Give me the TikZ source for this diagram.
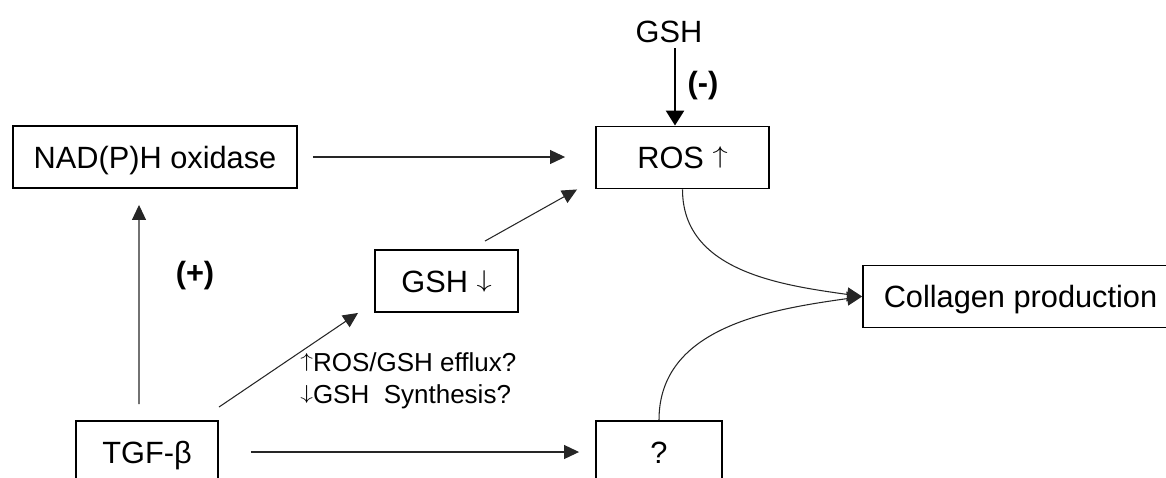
\documentclass[tikz,border=0pt]{standalone}
\usepackage{fontspec}
\setmainfont{Liberation Sans}
\usetikzlibrary{arrows.meta}

% slim up/down arrows, as tall as a capital letter
\newcommand\upmark{\raisebox{0.155em}{\scalebox{1}[0.8]{$\uparrow$}}}
\newcommand\downmark{\raisebox{0.155em}{\scalebox{1}[0.8]{$\downarrow$}}}

\begin{document}
\begin{tikzpicture}[x=0.02cm,y=-0.02cm,
  mainfont/.style={font=\fontsize{17.5}{21}\selectfont},
  box/.style={draw=black, line width=1.1pt, minimum height=1.24cm,
    inner sep=0pt, text height=0.444cm, text depth=0cm, mainfont},
  lbl/.style={inner sep=0pt, text height=0.444cm, text depth=0cm, mainfont},
  conn/.style={draw=black!85, line width=0.6pt,
    -{Triangle[length=0.3cm,width=0.28cm]}},
  heavy/.style={draw=black, line width=1.5pt,
    -{Triangle[length=0.3cm,width=0.36cm]}},
  note/.style={align=left, inner sep=0pt,
    font=\fontsize{14.8}{18.2}\selectfont}]
\useasboundingbox (0,0) rectangle (1166,477);

% boxes
\node[box, minimum width=5.68cm] (nad)  at (155,157)    {NAD(P)H oxidase};
\node[box, minimum width=3.46cm] (ros)  at (682.5,157.5) {ROS \upmark};
\node[box, minimum width=2.86cm] (gshd) at (446.5,281)  {GSH \downmark};
\node[box, minimum width=6.3cm]  (coll) at (1020.5,296.5) {Collagen production};
\node[box, minimum width=2.84cm] (tgf)  at (147,452)    {TGF-β};
\node[box, minimum width=2.52cm] (q)    at (659,452)    {?};

% free labels
\node[lbl] (gsht) at (669,31) {GSH};
\node[lbl, font=\fontsize{17.5}{21}\selectfont\bfseries] (minus) at (703,82) {(-)};
\node[lbl, font=\fontsize{17.5}{21}\selectfont\bfseries] (plus)  at (195,272) {(+)};
\node[note, anchor=west] (mech) at (300,381)
  {\upmark ROS/GSH efflux?\\\downmark GSH~ Synthesis?};

% connectors
\draw[conn, shorten <=0.3cm, shorten >=0.6cm] (nad.east) -- (nad.east -| ros.west);
\draw[heavy, shorten <=0.12cm] ([xshift=0.12cm]gsht.south) -- ([xshift=0.12cm]gsht.south |- ros.north);
\draw[conn] ([xshift=0.77cm,yshift=0.16cm]gshd.north) -- ([xshift=-0.36cm]ros.south west);
\draw[conn] ([yshift=0.26cm]tgf.north east) -- ([xshift=-0.32cm]gshd.south west);
\draw[conn] ([xshift=-0.16cm,yshift=0.32cm]tgf.north) -- ([xshift=-0.32cm,yshift=-0.32cm]nad.south);
\draw[conn, shorten <=0.64cm, shorten >=0.32cm] (tgf.east) -- (q.west);
\draw[conn] (ros.south) to[out=-90, in=172] (coll.west);
\draw[conn] (q.north) to[out=90, in=188] (coll.west);
\end{tikzpicture}
\end{document}
